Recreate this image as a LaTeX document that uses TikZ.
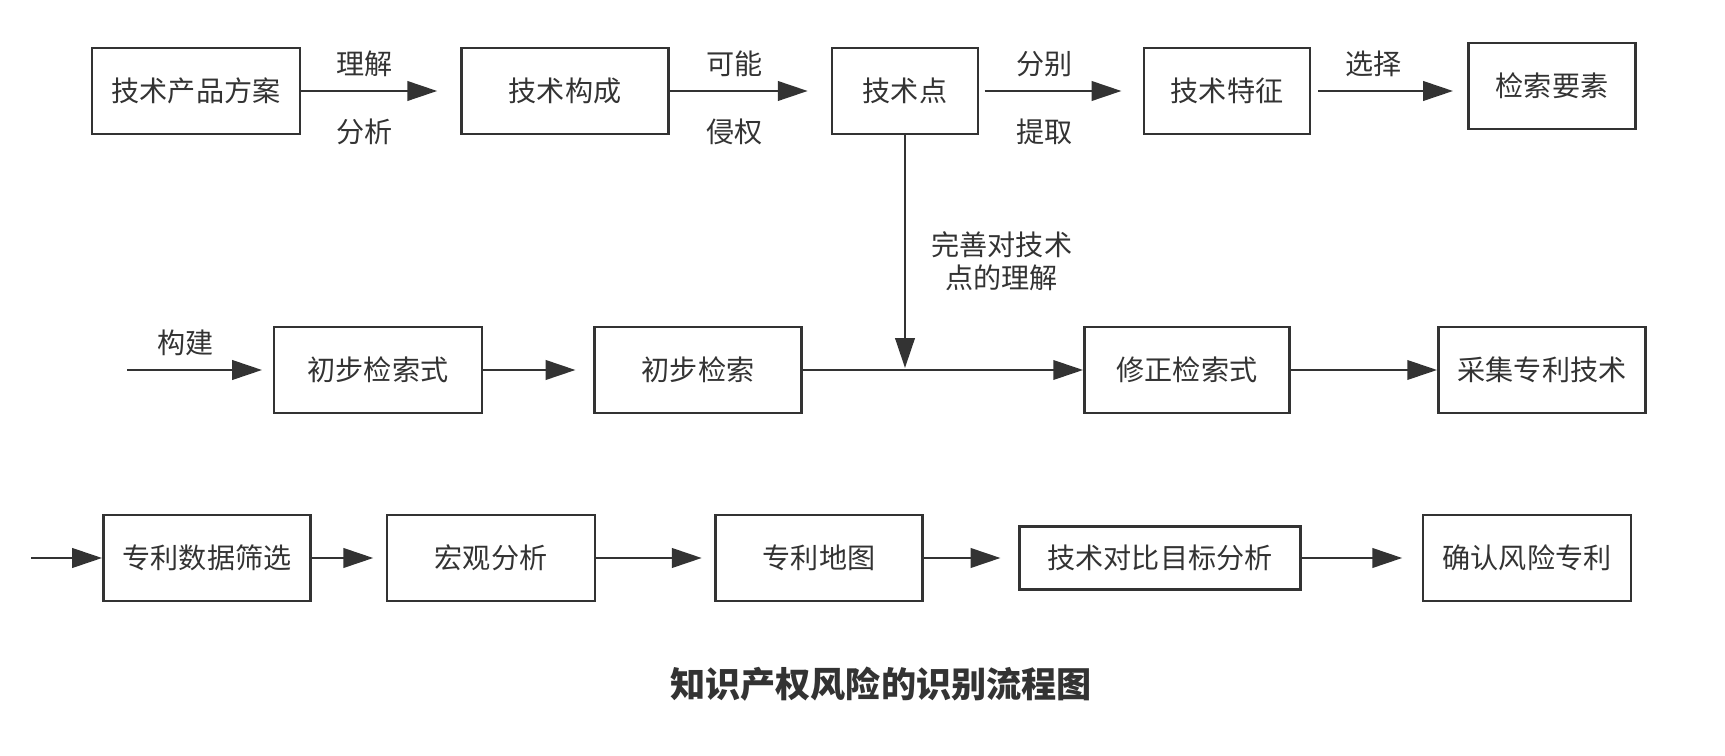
\documentclass[tikz,border=0pt]{standalone}
\usepackage{fontspec}
\setmainfont{Noto Sans CJK SC}
\usetikzlibrary{arrows.meta}
\definecolor{ink}{HTML}{333333}
\tikzset{box/.style={draw=ink, line width=1.6pt, minimum height=1.72cm, inner sep=0pt},
  link/.style={draw=ink, line width=1.6pt, -{Triangle[length=17pt, width=11pt]}}}

\begin{document}
\begin{tikzpicture}[x=0.02cm, y=-0.02cm, font=\fontsize{16pt}{19pt}\selectfont, text=ink]
  \useasboundingbox (0,0) rectangle (1725,756);
  % first row
  \node[box, minimum width=4.16cm] (plan) at (196,91) {技术产品方案};
  \node[box, minimum width=4.14cm] (makeup) at (565,91) {技术构成};
  \node[box, minimum width=2.92cm] (point) at (905,91) {技术点};
  \node[box, minimum width=3.32cm] (feature) at (1227,91) {技术特征};
  \node[box, minimum width=3.34cm] (element) at (1552,86) {检索要素};
  \draw[link, shorten >=13pt] (plan) -- (makeup) node [pos=0.4, above=4pt] (l1) {理解} node [pos=0.4, below=11.7pt] (l2) {分析};
  \draw[link, shorten >=13pt] (makeup) -- (point) node [pos=0.4, above=4pt] (l3) {可能} node [pos=0.4, below=11.7pt] (l4) {侵权};
  \draw[link, shorten <=3pt, shorten >=12pt] (point) -- (feature) node [pos=0.4, above=4pt] (l5) {分别} node [pos=0.4, below=11.7pt] (l6) {提取};
  \draw[link, shorten <=4pt, shorten >=8pt] (feature.east) -- (feature.east -| element.west) node [pos=0.4, above=4pt] (l7) {选择};
  % second row
  \coordinate (start2) at (127,370);
  \coordinate (meet) at (905,368);
  \node[box, minimum width=4.16cm] (draft) at (378,370) {初步检索式};
  \node[box, minimum width=4.14cm] (search) at (698,370) {初步检索};
  \node[box, minimum width=4.1cm] (revise) at (1187,370) {修正检索式};
  \node[box, minimum width=4.14cm] (collect) at (1542,370) {采集专利技术};
  \draw[link] (point) -- (meet) node [pos=0.54, right=11pt, align=center] (l8) {完善对技术\\点的理解};
  \draw[link, shorten >=6pt] (start2) -- (draft) node [pos=0.4, above=4pt] (l9) {构建};
  \draw[link, shorten >=10pt] (draft) -- (search);
  \draw[link] (search) -- (revise);
  \draw[link] (revise) -- (collect);
  % third row
  \coordinate (start3) at (31,558);
  \node[box, minimum width=4.14cm] (screen) at (207,558) {专利数据筛选};
  \node[box, minimum width=4.16cm] (macro) at (491,558) {宏观分析};
  \node[box, minimum width=4.14cm] (map) at (819,558) {专利地图};
  \node[box, minimum width=5.62cm, minimum height=1.26cm] (compare) at (1160,558) {技术对比目标分析};
  \node[box, minimum width=4.16cm] (confirm) at (1527,558) {确认风险专利};
  \draw[link] (start3) -- (screen);
  \draw[link, shorten >=7pt] (screen) -- (macro);
  \draw[link, shorten >=7pt] (macro) -- (map);
  \draw[link, shorten >=10pt] (map) -- (compare);
  \draw[link, shorten >=11pt] (compare) -- (confirm);
  % caption
  \node[font=\bfseries\fontsize{20pt}{24pt}\selectfont] (title) at (881,684) {知识产权风险的识别流程图};
\end{tikzpicture}
\end{document}
